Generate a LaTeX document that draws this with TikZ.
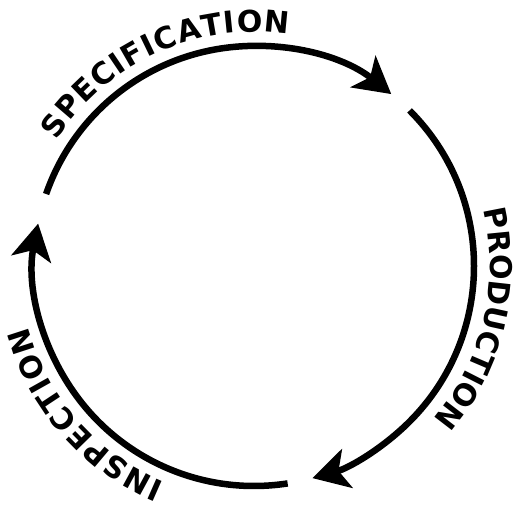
\documentclass[tikz,border=0pt]{standalone}
\usepackage{fontspec}
\newfontfamily\lblfam{DejaVu Sans}
\newcommand\lblfont{\lblfam\bfseries\fontsize{30}{30}\selectfont}
\usetikzlibrary{arrows.meta,decorations.text}
\tikzset{
  flow/.style={line width=6.5pt, line cap=butt, -{Stealth[length=36pt,width=40pt,inset=9pt]}},
  lbl/.style={decorate, decoration={text along path, text={|\lblfont|#1}, text align={fit to path}}}
}
\begin{document}
\begin{tikzpicture}[x=1pt,y=1pt]
\useasboundingbox (0,0) rectangle (513,504);
\begin{scope}[shift={(254,238)}]
  \coordinate (c) at (0,0);
  \coordinate (s0) at (160.9:220);
  \coordinate (p0) at (45:220);
  \coordinate (i0) at (-81.2:220);
  \draw[flow] (s0) arc[start angle=160.9, end angle=51.4, radius=220];
  \draw[flow] (p0) arc[start angle=45, end angle=-74.6, radius=220];
  \draw[flow] (i0) arc[start angle=-81.2, end angle=-191.1, radius=220];
  \path[lbl=SPECIFICATION] (147.6:234) arc[start angle=147.6, end angle=81.5, radius=234];
  \path[lbl=PRODUCTION] (13.8:236) arc[start angle=13.8, end angle=-38, radius=236];
  \path[lbl=INSPECTION] (-112.4:234) arc[start angle=-112.4, end angle=-165, radius=234];
\end{scope}
\end{tikzpicture}
\end{document}
